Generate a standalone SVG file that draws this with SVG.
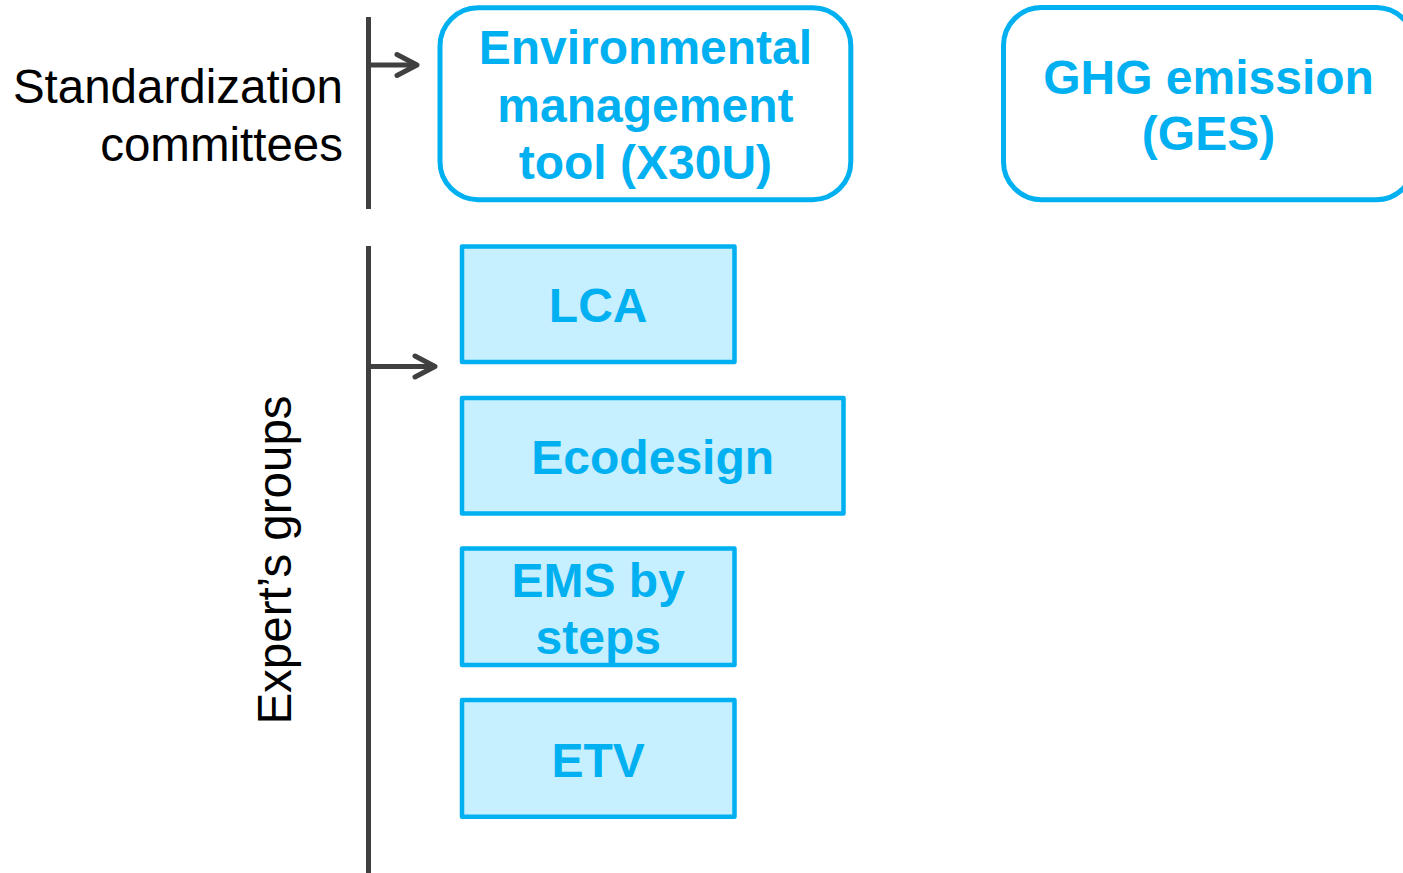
<svg xmlns="http://www.w3.org/2000/svg" width="1403" height="873" viewBox="0 0 1403 873">
<style>
.lbl{font-family:"Liberation Sans",Arial,sans-serif;font-size:47.5px;fill:#000}
.bt{font-family:"Liberation Sans",Arial,sans-serif;font-size:48px;font-weight:bold;fill:#00B0F0;text-anchor:middle}
.rbox{fill:#FFFFFF;stroke:#00B0F0;stroke-width:5}
.sbox{fill:#C6EFFF;stroke:#00B0F0;stroke-width:4.5;stroke-linejoin:round}
.ln{stroke:#404040;stroke-width:5;fill:none}
.ar{stroke:#404040;stroke-width:5;fill:none;stroke-linecap:round;stroke-linejoin:round}
</style>
<rect width="1403" height="873" fill="#FFFFFF"/>
<g id="labels">
<text class="lbl" x="343" y="103" text-anchor="end">Standardization</text>
<text class="lbl" x="343" y="160.5" text-anchor="end">committees</text>
<text class="lbl" transform="translate(291,560) rotate(-90)" text-anchor="middle">Expert’s groups</text>
</g>
<g id="connectors">
<line class="ln" x1="368.5" y1="17" x2="368.5" y2="209"/>
<line class="ln" x1="368.5" y1="246" x2="368.5" y2="873"/>
<line class="ar" x1="368.5" y1="65" x2="416" y2="65"/>
<polyline class="ar" points="397,54.5 417,65 397,75.5"/>
<line class="ar" x1="368.5" y1="366.5" x2="434" y2="366.5"/>
<polyline class="ar" points="415,356 435,366.5 415,377"/>
</g>
<g id="node-x30u">
<rect class="rbox" x="440" y="7.8" width="410.8" height="191.9" rx="38"/>
<text class="bt" x="645.4" y="64">Environmental</text>
<text class="bt" x="645.4" y="121.5">management</text>
<text class="bt" x="645.4" y="179">tool (X30U)</text>
</g>
<g id="node-ghg">
<rect class="rbox" x="1003.5" y="7.5" width="410.8" height="192.2" rx="38"/>
<text class="bt" x="1208.5" y="93.5">GHG emission</text>
<text class="bt" x="1208.5" y="150">(GES)</text>
</g>
<g id="node-lca">
<rect class="sbox" x="462" y="246.5" width="272.5" height="115.5"/>
<text class="bt" x="598.2" y="321.7">LCA</text>
</g>
<g id="node-ecodesign">
<rect class="sbox" x="462" y="398" width="381.5" height="115.5"/>
<text class="bt" x="652.7" y="474.3">Ecodesign</text>
</g>
<g id="node-ems">
<rect class="sbox" x="462" y="548.5" width="272.5" height="116.5"/>
<text class="bt" x="598.2" y="596.7">EMS by</text>
<text class="bt" x="598.2" y="654">steps</text>
</g>
<g id="node-etv">
<rect class="sbox" x="462" y="700" width="272.5" height="116.7"/>
<text class="bt" x="598.2" y="776.7">ETV</text>
</g>
</svg>
